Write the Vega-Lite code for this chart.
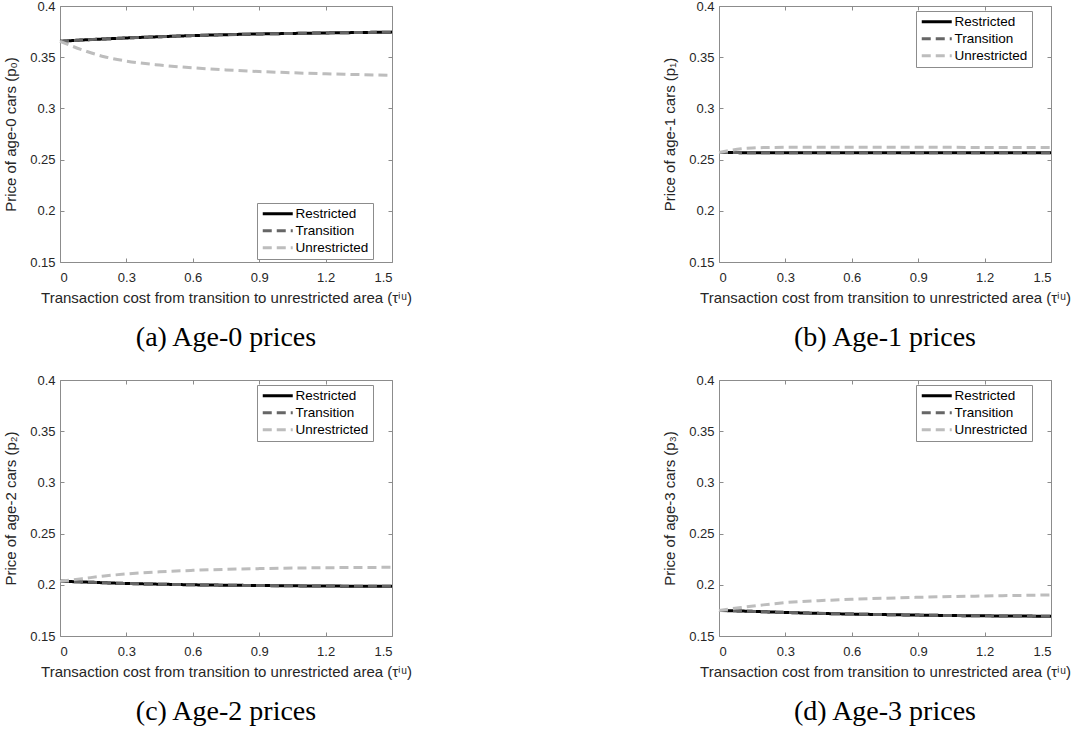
{
  "$schema": "https://vega.github.io/schema/vega-lite/v6.json",
  "background": "white",
  "padding": {"left": 3, "top": 0, "right": 0, "bottom": 0},
  "config": {
    "font": "Liberation Sans",
    "view": {"stroke": null},
    "axis": {
      "domainColor": "#8c8c8c",
      "tickColor": "#8c8c8c",
      "tickSize": -4,
      "labelColor": "#262626",
      "labelFontSize": 13,
      "titleColor": "#262626",
      "titleFontSize": 15,
      "titleFontWeight": "normal",
      "grid": false,
      "format": "~g"
    },
    "legend": {
      "orient": "none",
      "title": null,
      "strokeColor": "#8c8c8c",
      "fillColor": "white",
      "padding": 4,
      "symbolType": "M-1,0H5",
      "symbolSize": 100,
      "symbolStrokeWidth": 3,
      "labelFontSize": 13.5,
      "labelColor": "#000000",
      "labelOffset": 21,
      "rowPadding": 2
    },
    "title": {
      "font": "Liberation Serif",
      "fontSize": 28,
      "fontWeight": "normal",
      "color": "#000000",
      "orient": "bottom",
      "anchor": "middle"
    }
  },
  "data": {
    "values": [
      {"panel": 0, "tau": 0.0, "Restricted": 0.3655, "Transition": 0.3655, "Unrestricted": 0.3655},
      {"panel": 0, "tau": 0.1, "Restricted": 0.3668, "Transition": 0.3668, "Unrestricted": 0.3572},
      {"panel": 0, "tau": 0.2, "Restricted": 0.3678, "Transition": 0.3678, "Unrestricted": 0.3505},
      {"panel": 0, "tau": 0.3, "Restricted": 0.3688, "Transition": 0.3688, "Unrestricted": 0.3462},
      {"panel": 0, "tau": 0.45, "Restricted": 0.3700, "Transition": 0.3700, "Unrestricted": 0.3423},
      {"panel": 0, "tau": 0.6, "Restricted": 0.3711, "Transition": 0.3711, "Unrestricted": 0.3396},
      {"panel": 0, "tau": 0.75, "Restricted": 0.3720, "Transition": 0.3720, "Unrestricted": 0.3376},
      {"panel": 0, "tau": 0.9, "Restricted": 0.3727, "Transition": 0.3727, "Unrestricted": 0.3360},
      {"panel": 0, "tau": 1.05, "Restricted": 0.3732, "Transition": 0.3732, "Unrestricted": 0.3348},
      {"panel": 0, "tau": 1.2, "Restricted": 0.3737, "Transition": 0.3737, "Unrestricted": 0.3338},
      {"panel": 0, "tau": 1.35, "Restricted": 0.3741, "Transition": 0.3741, "Unrestricted": 0.3330},
      {"panel": 0, "tau": 1.5, "Restricted": 0.3745, "Transition": 0.3745, "Unrestricted": 0.3322},

      {"panel": 1, "tau": 0.0, "Restricted": 0.2570, "Transition": 0.2570, "Unrestricted": 0.2570},
      {"panel": 1, "tau": 0.05, "Restricted": 0.2569, "Transition": 0.2569, "Unrestricted": 0.2590},
      {"panel": 1, "tau": 0.1, "Restricted": 0.2568, "Transition": 0.2568, "Unrestricted": 0.2605},
      {"panel": 1, "tau": 0.15, "Restricted": 0.2568, "Transition": 0.2568, "Unrestricted": 0.2613},
      {"panel": 1, "tau": 0.2, "Restricted": 0.2568, "Transition": 0.2568, "Unrestricted": 0.2617},
      {"panel": 1, "tau": 0.3, "Restricted": 0.2568, "Transition": 0.2568, "Unrestricted": 0.2620},
      {"panel": 1, "tau": 0.45, "Restricted": 0.2568, "Transition": 0.2568, "Unrestricted": 0.2621},
      {"panel": 1, "tau": 0.6, "Restricted": 0.2568, "Transition": 0.2568, "Unrestricted": 0.2621},
      {"panel": 1, "tau": 0.9, "Restricted": 0.2568, "Transition": 0.2568, "Unrestricted": 0.2620},
      {"panel": 1, "tau": 1.2, "Restricted": 0.2568, "Transition": 0.2568, "Unrestricted": 0.2619},
      {"panel": 1, "tau": 1.5, "Restricted": 0.2568, "Transition": 0.2568, "Unrestricted": 0.2618},

      {"panel": 2, "tau": 0.0, "Restricted": 0.2035, "Transition": 0.2035, "Unrestricted": 0.2035},
      {"panel": 2, "tau": 0.1, "Restricted": 0.2028, "Transition": 0.2028, "Unrestricted": 0.2060},
      {"panel": 2, "tau": 0.2, "Restricted": 0.2020, "Transition": 0.2020, "Unrestricted": 0.2086},
      {"panel": 2, "tau": 0.3, "Restricted": 0.2013, "Transition": 0.2013, "Unrestricted": 0.2106},
      {"panel": 2, "tau": 0.45, "Restricted": 0.2006, "Transition": 0.2006, "Unrestricted": 0.2127},
      {"panel": 2, "tau": 0.6, "Restricted": 0.2000, "Transition": 0.2000, "Unrestricted": 0.2141},
      {"panel": 2, "tau": 0.75, "Restricted": 0.1996, "Transition": 0.1996, "Unrestricted": 0.2151},
      {"panel": 2, "tau": 0.9, "Restricted": 0.1993, "Transition": 0.1993, "Unrestricted": 0.2158},
      {"panel": 2, "tau": 1.05, "Restricted": 0.1990, "Transition": 0.1990, "Unrestricted": 0.2163},
      {"panel": 2, "tau": 1.2, "Restricted": 0.1988, "Transition": 0.1988, "Unrestricted": 0.2167},
      {"panel": 2, "tau": 1.35, "Restricted": 0.1986, "Transition": 0.1986, "Unrestricted": 0.2169},
      {"panel": 2, "tau": 1.5, "Restricted": 0.1985, "Transition": 0.1985, "Unrestricted": 0.2171},

      {"panel": 3, "tau": 0.0, "Restricted": 0.1750, "Transition": 0.1750, "Unrestricted": 0.1750},
      {"panel": 3, "tau": 0.1, "Restricted": 0.1744, "Transition": 0.1744, "Unrestricted": 0.1778},
      {"panel": 3, "tau": 0.2, "Restricted": 0.1737, "Transition": 0.1737, "Unrestricted": 0.1804},
      {"panel": 3, "tau": 0.3, "Restricted": 0.1730, "Transition": 0.1730, "Unrestricted": 0.1826},
      {"panel": 3, "tau": 0.45, "Restricted": 0.1721, "Transition": 0.1721, "Unrestricted": 0.1845},
      {"panel": 3, "tau": 0.6, "Restricted": 0.1714, "Transition": 0.1714, "Unrestricted": 0.1858},
      {"panel": 3, "tau": 0.75, "Restricted": 0.1709, "Transition": 0.1709, "Unrestricted": 0.1869},
      {"panel": 3, "tau": 0.9, "Restricted": 0.1704, "Transition": 0.1704, "Unrestricted": 0.1878},
      {"panel": 3, "tau": 1.05, "Restricted": 0.1700, "Transition": 0.1700, "Unrestricted": 0.1885},
      {"panel": 3, "tau": 1.2, "Restricted": 0.1697, "Transition": 0.1697, "Unrestricted": 0.1891},
      {"panel": 3, "tau": 1.35, "Restricted": 0.1695, "Transition": 0.1695, "Unrestricted": 0.1896},
      {"panel": 3, "tau": 1.5, "Restricted": 0.1693, "Transition": 0.1693, "Unrestricted": 0.1901}
    ]
  },
  "transform": [
    {"fold": ["Restricted", "Transition", "Unrestricted"], "as": ["series", "price"]}
  ],
  "bounds": "flush",
  "columns": 2,
  "spacing": {"row": 118, "column": 327},
  "resolve": {"legend": {"color": "independent", "strokeDash": "independent"}},
  "concat": [
    {
      "title": {"text": "(a) Age-0 prices", "offset": 19},
      "transform": [{"filter": "datum.panel == 0"}],
      "width": 332, "height": 256,
      "layer": [
        {
          "mark": {"type": "line", "strokeWidth": 3, "interpolate": "monotone"},
          "encoding": {
            "x": {"field": "tau", "type": "quantitative", "scale": {"domain": [0, 1.5], "nice": false},
                  "axis": {"orient": "bottom", "values": [0, 0.3, 0.6, 0.9, 1.2, 1.5], "labelPadding": 13, "title": "Transaction cost from transition to unrestricted area (τⁱᵘ)", "titlePadding": 6}},
            "y": {"field": "price", "type": "quantitative", "scale": {"domain": [0.15, 0.4], "nice": false, "zero": false},
                  "axis": {"orient": "left", "values": [0.15, 0.2, 0.25, 0.3, 0.35, 0.4], "labelPadding": 9, "title": "Price of age-0 cars (p₀)", "titlePadding": 11}},
            "color": {"field": "series", "type": "nominal", "scale": {"domain": ["Restricted", "Transition", "Unrestricted"], "range": ["#000000", "#666666", "#bdbdbd"]},
                      "legend": {"legendX": 197, "legendY": 197}},
            "strokeDash": {"field": "series", "type": "nominal", "scale": {"domain": ["Restricted", "Transition", "Unrestricted"], "range": [[1, 0], [9, 5], [9, 5]]},
                           "legend": {"legendX": 197, "legendY": 197}},
            "order": {"field": "tau", "type": "quantitative"}
          }
        },
        {
          "mark": {"type": "line", "opacity": 0},
          "encoding": {
            "x": {"field": "tau", "type": "quantitative", "axis": {"orient": "top", "labels": false, "title": null, "values": [0, 0.3, 0.6, 0.9, 1.2, 1.5]}},
            "y": {"field": "price", "type": "quantitative", "axis": {"orient": "right", "labels": false, "title": null, "values": [0.15, 0.2, 0.25, 0.3, 0.35, 0.4]}},
            "detail": {"field": "series"}
          }
        }
      ]
    },
    {
      "title": {"text": "(b) Age-1 prices", "offset": 19},
      "transform": [{"filter": "datum.panel == 1"}],
      "width": 332, "height": 256,
      "layer": [
        {
          "mark": {"type": "line", "strokeWidth": 3, "interpolate": "monotone"},
          "encoding": {
            "x": {"field": "tau", "type": "quantitative", "scale": {"domain": [0, 1.5], "nice": false},
                  "axis": {"orient": "bottom", "values": [0, 0.3, 0.6, 0.9, 1.2, 1.5], "labelPadding": 13, "title": "Transaction cost from transition to unrestricted area (τⁱᵘ)", "titlePadding": 6}},
            "y": {"field": "price", "type": "quantitative", "scale": {"domain": [0.15, 0.4], "nice": false, "zero": false},
                  "axis": {"orient": "left", "values": [0.15, 0.2, 0.25, 0.3, 0.35, 0.4], "labelPadding": 9, "title": "Price of age-1 cars (p₁)", "titlePadding": 11}},
            "color": {"field": "series", "type": "nominal", "scale": {"domain": ["Restricted", "Transition", "Unrestricted"], "range": ["#000000", "#666666", "#bdbdbd"]},
                      "legend": {"legendX": 197, "legendY": 5}},
            "strokeDash": {"field": "series", "type": "nominal", "scale": {"domain": ["Restricted", "Transition", "Unrestricted"], "range": [[1, 0], [9, 5], [9, 5]]},
                           "legend": {"legendX": 197, "legendY": 5}},
            "order": {"field": "tau", "type": "quantitative"}
          }
        },
        {
          "mark": {"type": "line", "opacity": 0},
          "encoding": {
            "x": {"field": "tau", "type": "quantitative", "axis": {"orient": "top", "labels": false, "title": null, "values": [0, 0.3, 0.6, 0.9, 1.2, 1.5]}},
            "y": {"field": "price", "type": "quantitative", "axis": {"orient": "right", "labels": false, "title": null, "values": [0.15, 0.2, 0.25, 0.3, 0.35, 0.4]}},
            "detail": {"field": "series"}
          }
        }
      ]
    },
    {
      "title": {"text": "(c) Age-2 prices", "offset": 19},
      "transform": [{"filter": "datum.panel == 2"}],
      "width": 332, "height": 256,
      "layer": [
        {
          "mark": {"type": "line", "strokeWidth": 3, "interpolate": "monotone"},
          "encoding": {
            "x": {"field": "tau", "type": "quantitative", "scale": {"domain": [0, 1.5], "nice": false},
                  "axis": {"orient": "bottom", "values": [0, 0.3, 0.6, 0.9, 1.2, 1.5], "labelPadding": 13, "title": "Transaction cost from transition to unrestricted area (τⁱᵘ)", "titlePadding": 6}},
            "y": {"field": "price", "type": "quantitative", "scale": {"domain": [0.15, 0.4], "nice": false, "zero": false},
                  "axis": {"orient": "left", "values": [0.15, 0.2, 0.25, 0.3, 0.35, 0.4], "labelPadding": 9, "title": "Price of age-2 cars (p₂)", "titlePadding": 11}},
            "color": {"field": "series", "type": "nominal", "scale": {"domain": ["Restricted", "Transition", "Unrestricted"], "range": ["#000000", "#666666", "#bdbdbd"]},
                      "legend": {"legendX": 197, "legendY": 5}},
            "strokeDash": {"field": "series", "type": "nominal", "scale": {"domain": ["Restricted", "Transition", "Unrestricted"], "range": [[1, 0], [9, 5], [9, 5]]},
                           "legend": {"legendX": 197, "legendY": 5}},
            "order": {"field": "tau", "type": "quantitative"}
          }
        },
        {
          "mark": {"type": "line", "opacity": 0},
          "encoding": {
            "x": {"field": "tau", "type": "quantitative", "axis": {"orient": "top", "labels": false, "title": null, "values": [0, 0.3, 0.6, 0.9, 1.2, 1.5]}},
            "y": {"field": "price", "type": "quantitative", "axis": {"orient": "right", "labels": false, "title": null, "values": [0.15, 0.2, 0.25, 0.3, 0.35, 0.4]}},
            "detail": {"field": "series"}
          }
        }
      ]
    },
    {
      "title": {"text": "(d) Age-3 prices", "offset": 19},
      "transform": [{"filter": "datum.panel == 3"}],
      "width": 332, "height": 256,
      "layer": [
        {
          "mark": {"type": "line", "strokeWidth": 3, "interpolate": "monotone"},
          "encoding": {
            "x": {"field": "tau", "type": "quantitative", "scale": {"domain": [0, 1.5], "nice": false},
                  "axis": {"orient": "bottom", "values": [0, 0.3, 0.6, 0.9, 1.2, 1.5], "labelPadding": 13, "title": "Transaction cost from transition to unrestricted area (τⁱᵘ)", "titlePadding": 6}},
            "y": {"field": "price", "type": "quantitative", "scale": {"domain": [0.15, 0.4], "nice": false, "zero": false},
                  "axis": {"orient": "left", "values": [0.15, 0.2, 0.25, 0.3, 0.35, 0.4], "labelPadding": 9, "title": "Price of age-3 cars (p₃)", "titlePadding": 11}},
            "color": {"field": "series", "type": "nominal", "scale": {"domain": ["Restricted", "Transition", "Unrestricted"], "range": ["#000000", "#666666", "#bdbdbd"]},
                      "legend": {"legendX": 197, "legendY": 5}},
            "strokeDash": {"field": "series", "type": "nominal", "scale": {"domain": ["Restricted", "Transition", "Unrestricted"], "range": [[1, 0], [9, 5], [9, 5]]},
                           "legend": {"legendX": 197, "legendY": 5}},
            "order": {"field": "tau", "type": "quantitative"}
          }
        },
        {
          "mark": {"type": "line", "opacity": 0},
          "encoding": {
            "x": {"field": "tau", "type": "quantitative", "axis": {"orient": "top", "labels": false, "title": null, "values": [0, 0.3, 0.6, 0.9, 1.2, 1.5]}},
            "y": {"field": "price", "type": "quantitative", "axis": {"orient": "right", "labels": false, "title": null, "values": [0.15, 0.2, 0.25, 0.3, 0.35, 0.4]}},
            "detail": {"field": "series"}
          }
        }
      ]
    }
  ]
}
